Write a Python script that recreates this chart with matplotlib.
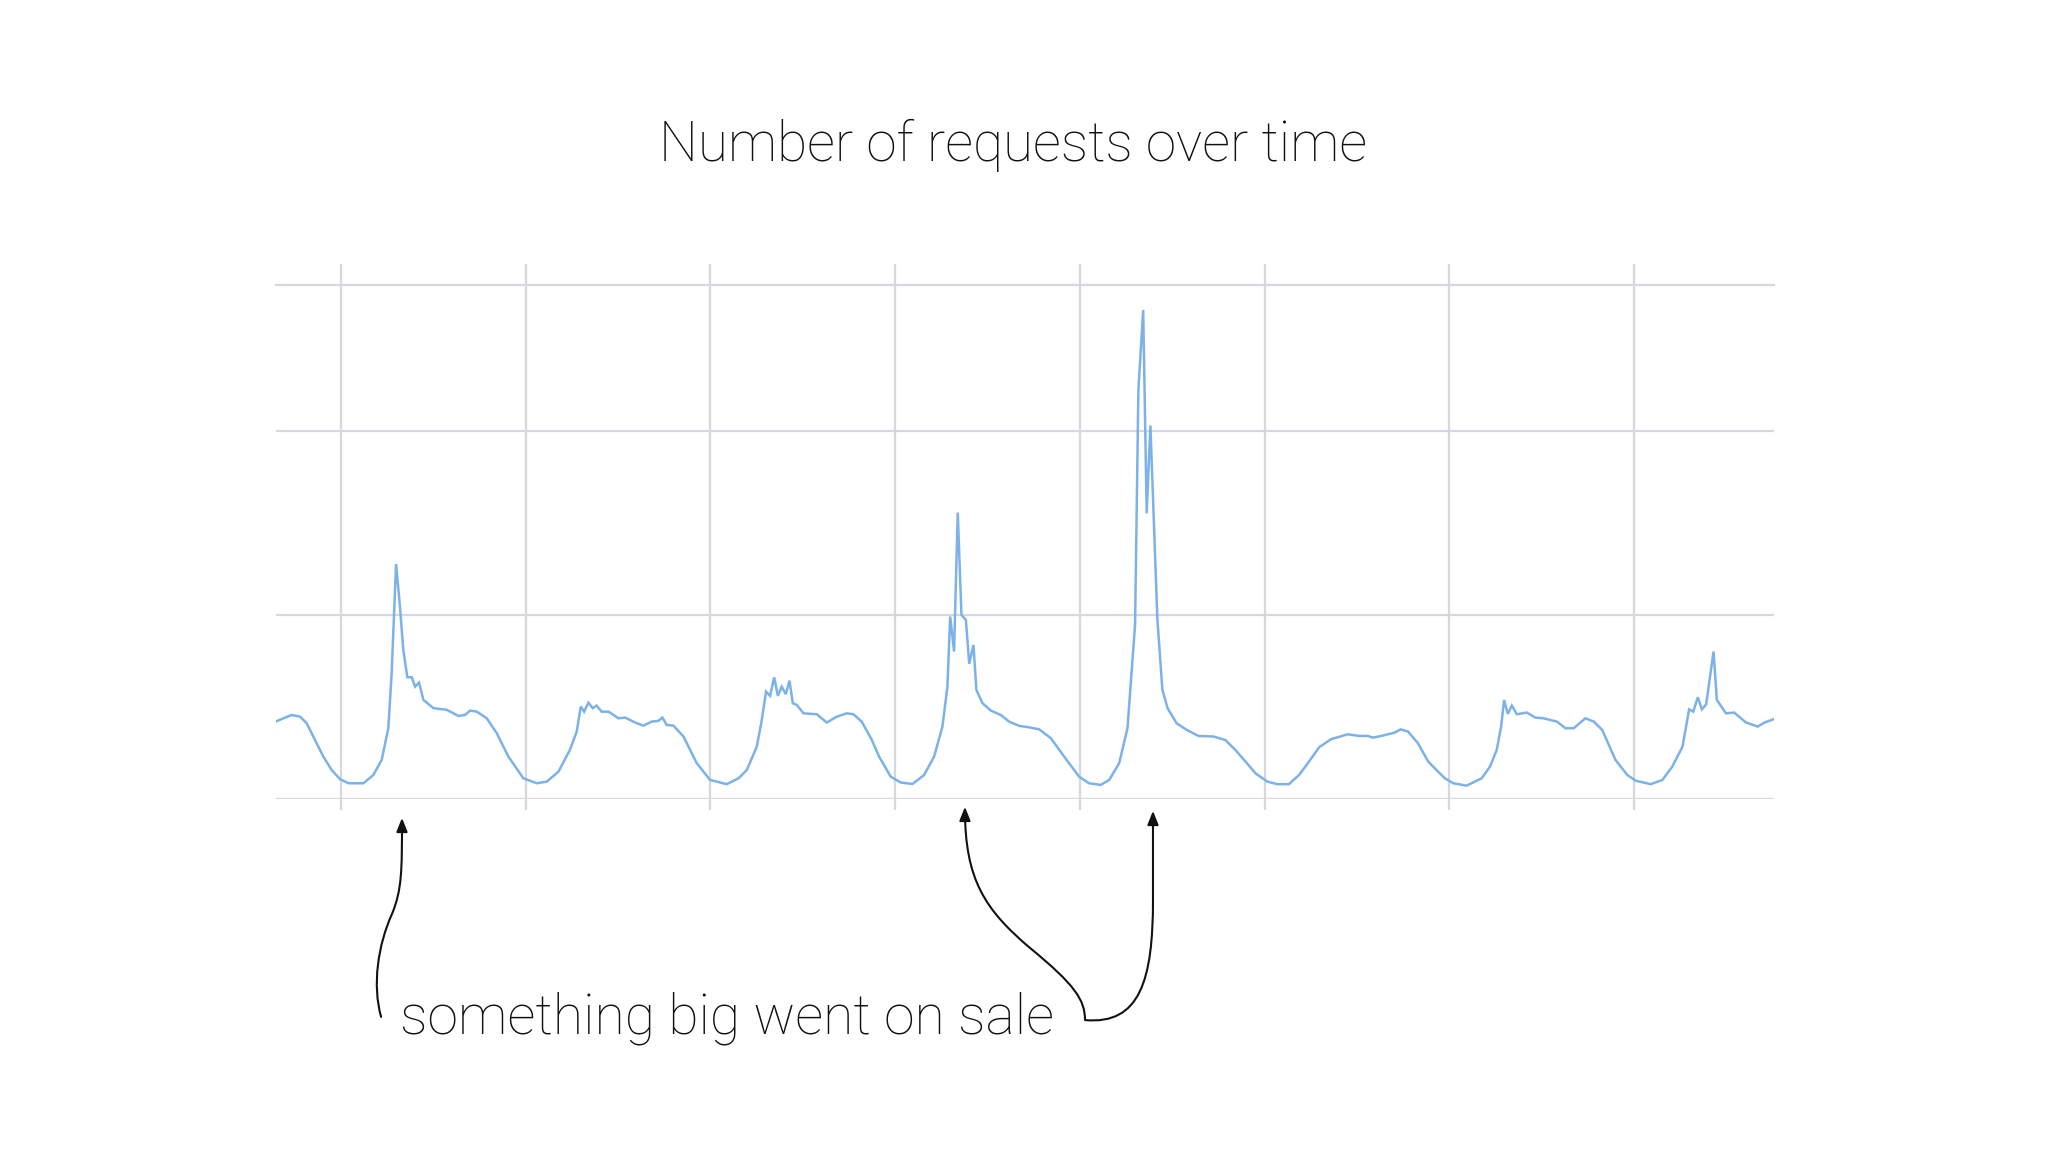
import matplotlib
matplotlib.use("Agg")
import matplotlib.pyplot as plt
from matplotlib.path import Path
from matplotlib.patches import FancyArrowPatch

# traffic trace: x in days (grid line every day), y in grid units
days = [0.646, 0.688, 0.733, 0.778, 0.814, 0.850, 0.904, 0.949, 0.995, 1.040,
        1.121, 1.175, 1.220, 1.256, 1.274, 1.298, 1.319, 1.337, 1.359, 1.383,
        1.401, 1.422, 1.446, 1.500, 1.572, 1.635, 1.671, 1.699, 1.735, 1.789,
        1.843, 1.906, 1.987, 2.060, 2.114, 2.177, 2.240, 2.276, 2.298, 2.316,
        2.339, 2.363, 2.384, 2.411, 2.448, 2.502, 2.538, 2.592, 2.637, 2.682,
        2.718, 2.740, 2.763, 2.800, 2.854, 2.926, 2.998, 3.088, 3.152, 3.197,
        3.251, 3.278, 3.301, 3.323, 3.345, 3.365, 3.386, 3.408, 3.428, 3.446,
        3.467, 3.504, 3.576, 3.630, 3.684, 3.738, 3.774, 3.819, 3.874, 3.913,
        3.976, 4.030, 4.094, 4.157, 4.211, 4.256, 4.283, 4.298, 4.319, 4.339,
        4.359, 4.383, 4.401, 4.424, 4.440, 4.473, 4.518, 4.572, 4.617, 4.671,
        4.725, 4.780, 4.843, 4.915, 4.996, 5.050, 5.113, 5.159, 5.213, 5.258,
        5.299, 5.317, 5.343, 5.362, 5.382, 5.420, 5.447, 5.475, 5.524, 5.579,
        5.642, 5.724, 5.788, 5.842, 5.897, 5.951, 6.015, 6.069, 6.132, 6.187,
        6.241, 6.296, 6.359, 6.450, 6.514, 6.559, 6.586, 6.632, 6.704, 6.737,
        6.777, 6.831, 6.886, 6.922, 6.976, 7.022, 7.094, 7.176, 7.221, 7.257,
        7.281, 7.297, 7.317, 7.339, 7.366, 7.420, 7.466, 7.511, 7.583, 7.629,
        7.674, 7.737, 7.783, 7.828, 7.900, 7.964, 8.009, 8.091, 8.154, 8.208,
        8.263, 8.299, 8.321, 8.346, 8.368, 8.391, 8.431, 8.449, 8.498, 8.543,
        8.607, 8.670, 8.707, 8.756]
requests = [0.422, 0.440, 0.458, 0.449, 0.413, 0.341, 0.232, 0.159, 0.109, 0.087,
            0.087, 0.132, 0.214, 0.386, 0.685, 1.279, 1.047, 0.812, 0.663, 0.663,
            0.612, 0.634, 0.540, 0.495, 0.486, 0.453, 0.458, 0.482, 0.476, 0.440,
            0.359, 0.232, 0.114, 0.087, 0.096, 0.150, 0.270, 0.368, 0.504, 0.476,
            0.525, 0.495, 0.509, 0.476, 0.476, 0.440, 0.444, 0.417, 0.400, 0.422,
            0.426, 0.444, 0.404, 0.400, 0.341, 0.196, 0.105, 0.082, 0.114, 0.159,
            0.286, 0.431, 0.585, 0.562, 0.663, 0.562, 0.612, 0.571, 0.645, 0.522,
            0.513, 0.467, 0.462, 0.417, 0.449, 0.467, 0.462, 0.422, 0.322, 0.232,
            0.123, 0.091, 0.083, 0.132, 0.232, 0.395, 0.612, 0.993, 0.803, 1.558,
            1.002, 0.975, 0.736, 0.839, 0.594, 0.522, 0.482, 0.458, 0.422, 0.399,
            0.391, 0.380, 0.332, 0.232, 0.123, 0.087, 0.078, 0.105, 0.196, 0.386,
            0.950, 2.225, 2.659, 1.554, 2.031, 0.975, 0.594, 0.495, 0.413, 0.377,
            0.344, 0.341, 0.322, 0.268, 0.205, 0.141, 0.096, 0.082, 0.082, 0.132,
            0.205, 0.283, 0.326, 0.353, 0.344, 0.344, 0.335, 0.344, 0.362, 0.380,
            0.368, 0.304, 0.205, 0.168, 0.114, 0.087, 0.074, 0.114, 0.178, 0.268,
            0.395, 0.540, 0.464, 0.509, 0.462, 0.471, 0.444, 0.440, 0.422, 0.386,
            0.386, 0.440, 0.422, 0.377, 0.214, 0.132, 0.101, 0.082, 0.105, 0.178,
            0.286, 0.489, 0.476, 0.554, 0.489, 0.516, 0.803, 0.540, 0.467, 0.471,
            0.417, 0.395, 0.417, 0.435]

grid_days = [1, 2, 3, 4, 5, 6, 7, 8]
grid_levels = [0, 1, 2]
x_range = (0.646, 8.756)
y_range = (0, 2.795)

title = "Number of requests over time"
caption = "something big went on sale"

grid_col = "#d7d8de"
line_col = "#7db2e8"
font = ["Roboto", "DejaVu Sans"]

fig = plt.figure(figsize=(20.48, 11.52), dpi=100, facecolor="white")
ax = fig.add_axes([0.1346, 0.3062, 0.7314, 0.4464])
ax.set_xlim(*x_range)
ax.set_ylim(*y_range)
for s in ["left", "right", "bottom"]:
    ax.spines[s].set_visible(False)
ax.spines["top"].set_color(grid_col)
ax.spines["top"].set_linewidth(1.6)
ax.set_xticks([])
ax.set_yticks([])

for lv in grid_levels:
    ax.axhline(lv, color=grid_col, lw=1.6, zorder=1)
# day lines poke a little above and below the frame
ax.vlines(grid_days, -0.02, 1.041, transform=ax.get_xaxis_transform(),
          colors=grid_col, lw=1.6, clip_on=False, zorder=1)

ax.plot(days, requests, color=line_col, lw=1.8, zorder=3, solid_joinstyle="miter")

fig.text(0.4949, 0.8602, title, ha="center", va="baseline",
         fontsize=39.5, family=font, fontweight="light", color="#111111")
fig.text(0.1953, 0.1030, caption, ha="left", va="baseline",
         fontsize=39.8, family=font, fontweight="light", color="#111111")

# arrows from the caption to the three spikes
arrow_kw = dict(arrowstyle="-|>,head_length=0.55,head_width=0.22", mutation_scale=15,
                color="#111111", lw=1.5, transform=ax.transData, clip_on=False)

left_path = Path([(1.217, -1.183), (1.168, -1.009), (1.200, -0.792), (1.276, -0.623),
                  (1.330, -0.492), (1.330, -0.384), (1.330, -0.101)],
                 [Path.MOVETO, Path.CURVE4, Path.CURVE4, Path.CURVE4,
                  Path.CURVE4, Path.CURVE4, Path.CURVE4])
ax.add_patch(FancyArrowPatch(path=left_path, **arrow_kw))

right_path = Path([(4.378, -0.041), (4.378, -0.438), (4.487, -0.601), (4.730, -0.808),
                   (4.974, -1.009), (5.028, -1.091), (5.028, -1.200),
                   (5.326, -1.227), (5.396, -0.982), (5.396, -0.547),
                   (5.396, -0.063)],
                  [Path.MOVETO, Path.CURVE4, Path.CURVE4, Path.CURVE4,
                   Path.CURVE4, Path.CURVE4, Path.CURVE4,
                   Path.CURVE4, Path.CURVE4, Path.CURVE4, Path.LINETO])
arrow_kw["arrowstyle"] = "<|-|>,head_length=0.55,head_width=0.22"
ax.add_patch(FancyArrowPatch(path=right_path, **arrow_kw))

fig.savefig("out.png", dpi=100, facecolor="white")
